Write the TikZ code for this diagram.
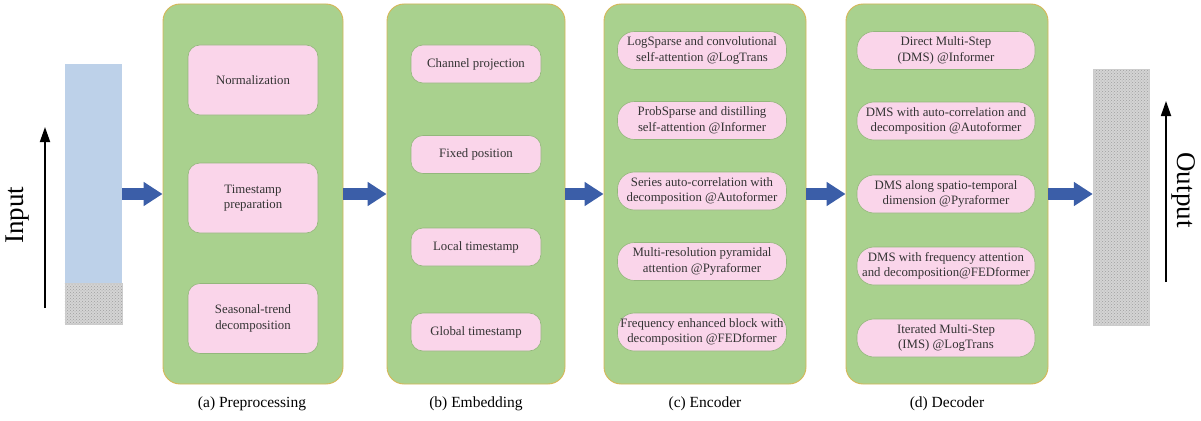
\documentclass[tikz,border=0pt]{standalone}
\usepackage{fontspec}
\setmainfont{Liberation Serif}
\usetikzlibrary{arrows.meta,patterns}
\definecolor{panelfill}{HTML}{A9D18E}
\definecolor{paneldraw}{HTML}{D6B656}
\definecolor{pinkfill}{HTML}{FAD5EA}
\definecolor{pinkdraw}{HTML}{93B77C}
\definecolor{bluearrow}{HTML}{3B5EA8}
\definecolor{inblue}{HTML}{BDD1E9}
\definecolor{patgray}{HTML}{D4D4D4}
\tikzset{
  panel/.style={draw=paneldraw, line width=0.9pt, fill=panelfill, rounded corners=17pt, inner sep=0pt},
  pinkbox/.style={draw=pinkdraw, line width=0.6pt, fill=pinkfill, rounded corners=12pt, inner sep=1pt,
     align=center, font=\fontsize{12.8}{15.5}\selectfont, text=black!80},
  pillbox/.style={pinkbox, rounded corners=17pt},
  bigarrow/.style={draw=bluearrow, line width=12pt, -{Triangle[length=19pt,width=23pt]}},
  thinarrow/.style={draw=black, line width=1.8pt, -{Triangle[length=15pt,width=10pt]}},
  caption/.style={font=\fontsize{15.5}{18}\selectfont, inner sep=0pt},
  sidelabel/.style={font=\fontsize{27}{30}\selectfont, inner sep=0pt},
  hatched/.style={preaction={fill=patgray}, pattern=crosshatch dots, pattern color=gray!75, draw=gray!40, line width=0.4pt}
}
\begin{document}
\begin{tikzpicture}[x=1pt,y=-1pt]
\useasboundingbox (0,0) rectangle (1201,420);
% input bar
\node[inner sep=0pt, minimum width=57pt, minimum height=260pt] (inbar) at (93.5,194) {};
\fill[inblue] (inbar.north west) rectangle (inbar.east |- 0,283);
\path[hatched] (inbar.west |- 0,283) rectangle (inbar.south east);
\coordinate (inA) at (45,308);
\coordinate (inB) at (45,127);
\draw[thinarrow] (inA) -- (inB);
\node[sidelabel, rotate=90] (inlabel) at (18,215) {Input};
% panels
\node[panel, minimum width=180pt, minimum height=380pt] (pa) at (253,194) {};
\node[panel, minimum width=178pt, minimum height=380pt] (pb) at (476,194) {};
\node[panel, minimum width=202pt, minimum height=380pt] (pc) at (705,194) {};
\node[panel, minimum width=202pt, minimum height=380pt] (pd) at (947,194) {};
% captions
\node[caption] (ca) at (252,404) {(a) Preprocessing};
\node[caption] (cb) at (476,404) {(b) Embedding};
\node[caption] (cc) at (705,404) {(c) Encoder};
\node[caption] (cd) at (947,404) {(d) Decoder};
% (a)
\node[pinkbox, minimum width=130pt, minimum height=70pt] (a1) at (253,80) {Normalization};
\node[pinkbox, minimum width=130pt, minimum height=70pt] (a2) at (253,198) {Timestamp\\preparation};
\node[pinkbox, minimum width=130pt, minimum height=70pt] (a3) at (253,318.5) {Seasonal-trend\\decomposition};
% (b)
\node[pinkbox, minimum width=130pt, minimum height=38pt] (b1) at (476,64) {Channel projection};
\node[pinkbox, minimum width=130pt, minimum height=38pt] (b2) at (476,154.5) {Fixed position};
\node[pinkbox, minimum width=130pt, minimum height=38pt] (b3) at (476,247) {Local timestamp};
\node[pinkbox, minimum width=130pt, minimum height=38pt] (b4) at (476,332) {Global timestamp};
% (c)
\node[pillbox, minimum width=169pt, minimum height=38pt] (c1) at (702,50.5) {LogSparse and convolutional\\self-attention @LogTrans};
\node[pillbox, minimum width=169pt, minimum height=38pt] (c2) at (702,120.5) {ProbSparse and distilling\\self-attention @Informer};
\node[pillbox, minimum width=169pt, minimum height=38pt] (c3) at (702,191) {Series auto-correlation with\\decomposition @Autoformer};
\node[pillbox, minimum width=169pt, minimum height=38pt] (c4) at (702,261.5) {Multi-resolution pyramidal\\attention @Pyraformer};
\node[pillbox, minimum width=169pt, minimum height=38pt] (c5) at (702,332) {Frequency enhanced block with\\decomposition @FEDformer};
% (d)
\node[pillbox, minimum width=178pt, minimum height=38pt] (d1) at (946,50.5) {Direct Multi-Step\\(DMS) @Informer};
\node[pillbox, minimum width=178pt, minimum height=38pt] (d2) at (946,121) {DMS with auto-correlation and\\decomposition @Autoformer};
\node[pillbox, minimum width=178pt, minimum height=38pt] (d3) at (946,194) {DMS along spatio-temporal\\dimension @Pyraformer};
\node[pillbox, minimum width=178pt, minimum height=38pt] (d4) at (946,266) {DMS with frequency attention\\and decomposition@FEDformer};
\node[pillbox, minimum width=178pt, minimum height=38pt] (d5) at (946,338) {Iterated Multi-Step\\(IMS) @LogTrans};
% output bar
\node[inner sep=0pt, minimum width=56pt, minimum height=256pt, hatched] (outbar) at (1121,197) {};
\coordinate (outA) at (1166,282);
\coordinate (outB) at (1166,101);
\draw[thinarrow] (outA) -- (outB);
\node[sidelabel, rotate=-90] (outlabel) at (1184,190) {Output};
% big arrows
\draw[bigarrow] (inbar.east) -- (pa.west);
\draw[bigarrow] (pa.east) -- (pb.west);
\draw[bigarrow] (pb.east) -- (pc.west);
\draw[bigarrow] (pc.east) -- (pd.west);
\draw[bigarrow] (pd.east) -- (outbar.west |- pd.east);
\end{tikzpicture}
\end{document}
